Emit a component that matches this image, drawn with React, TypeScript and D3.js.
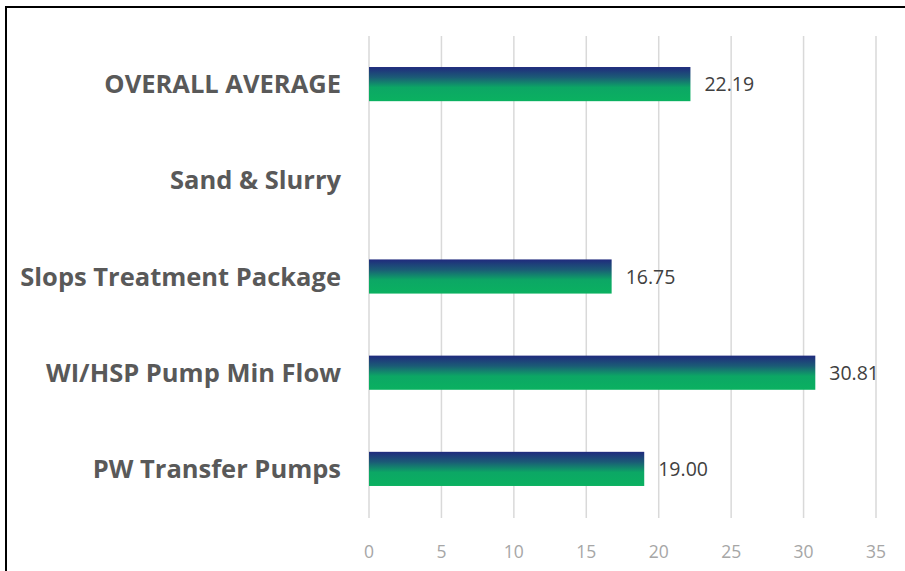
import React from "react";
import * as d3 from "d3";

const categories = ["OVERALL AVERAGE", "Sand & Slurry", "Slops Treatment Package", "WI/HSP Pump Min Flow", "PW Transfer Pumps"];
const values: (number | null)[] = [22.19, null, 16.75, 30.81, 19.0];
const xTicks = [0, 5, 10, 15, 20, 25, 30, 35];

const W = 905, H = 571;
const margin = { left: 369, right: 29, top: 36, bottom: 54 };

export default function App() {
  const x = d3.scaleLinear().domain([0, 35]).range([margin.left, W - margin.right]);
  const y = d3.scaleBand<string>().domain(categories).range([margin.top, H - margin.bottom]).paddingInner(0.645).paddingOuter(0.3225);
  const font = "'Open Sans', sans-serif";
  return (
    <svg width={W} height={H} style={{ position: "absolute", left: 0, top: 0, background: "#fff" }}>
      <defs>
        <linearGradient id="barGrad" x1="0" y1="0" x2="0" y2="1">
          <stop offset="0" stopColor="#202a7d" />
          <stop offset="0.3" stopColor="#1b5b76" />
          <stop offset="0.6" stopColor="#0ca765" />
          <stop offset="1" stopColor="#0ab160" />
        </linearGradient>
      </defs>
      <line x1={5} x2={W} y1={7} y2={7} stroke="#000" strokeWidth={2} />
      <line x1={6} x2={6} y1={6} y2={H} stroke="#000" strokeWidth={2} />
      {xTicks.map((t) => (
        <g key={t}>
          <line x1={x(t)} x2={x(t)} y1={margin.top} y2={H - margin.bottom + 1} stroke="#d9d9d9" strokeWidth={1.5} />
          <text x={x(t)} y={558} textAnchor="middle" fontFamily={font} fontSize={17.5} fill="#a6a6a6">{t}</text>
        </g>
      ))}
      {categories.map((c, i) => {
        const v = values[i];
        const yc = (y(c) as number) + y.bandwidth() / 2;
        return (
          <g key={c}>
            <text x={341} y={yc} dy="0.36em" textAnchor="end" fontFamily={font} fontWeight={700} fontSize={25.5} fill="#595959">{c}</text>
            {v !== null && (
              <>
                <rect x={x(0)} y={y(c)} width={x(v) - x(0)} height={y.bandwidth()} fill="url(#barGrad)" />
                <text x={x(v) + 14} y={yc} dy="0.36em" fontFamily={font} fontSize={19.5} fill="#404040">{v.toFixed(2)}</text>
              </>
            )}
          </g>
        );
      })}
    </svg>
  );
}
